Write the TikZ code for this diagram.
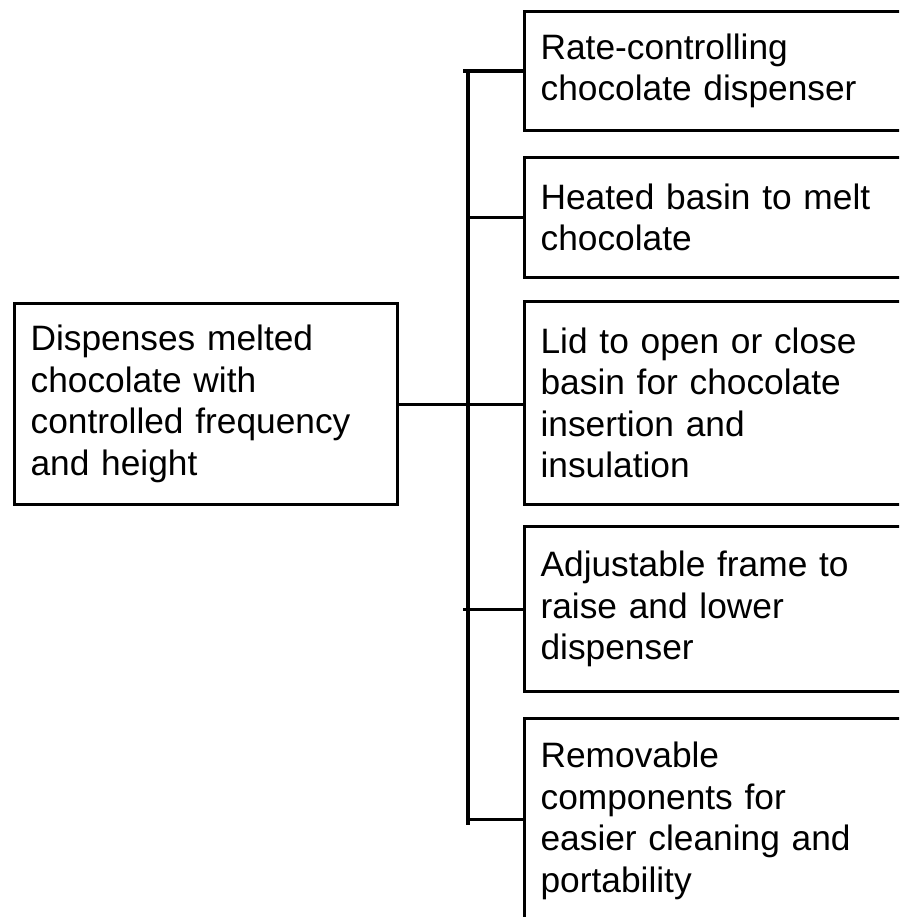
\documentclass[tikz,border=0pt]{standalone}
\usepackage{fontspec}
\setmainfont{Liberation Sans}
\begin{document}
\begin{tikzpicture}[x=1pt,y=-1pt,
  box/.style={draw=black,line width=3.2pt,rectangle,anchor=north west,
    inner xsep=16pt,inner ysep=0pt,text width=351pt,align=left,
    font=\fontsize{35.3}{41.5}\selectfont},
  conn/.style={draw=black,line width=3.2pt}]
\useasboundingbox (0,0) rectangle (899,917);
\clip (0,0) rectangle (899,917);
\node[box,minimum height=201pt,text width=351pt] (L) at (13,302)
  {Dispenses melted\\chocolate with\\controlled frequency\\and height};
\node[box,minimum height=119pt] (B1) at (523,10)
  {Rate-controlling\\chocolate dispenser};
\node[box,minimum height=120pt] (B2) at (523,156)
  {Heated basin to melt\\chocolate};
\node[box,minimum height=203pt] (B3) at (523,300)
  {Lid to open or close\\basin for chocolate\\insertion and\\insulation};
\node[box,minimum height=165pt] (B4) at (523,525)
  {Adjustable frame to\\raise and lower\\dispenser};
\node[box,minimum height=205pt] (B5) at (523,717)
  {Removable\\components for\\easier cleaning and\\portability};
\coordinate (T) at (468,0);
\draw[conn] (B1.west -| T) -- ([yshift=-4pt]B5.west -| T);
\draw[conn] ([xshift=-5pt]B1.west -| T) -- (B1.west);
\draw[conn] (B2.west -| T) -- (B2.west);
\draw[conn] (L.east) -- (L.east -| B3.west);
\draw[conn] ([xshift=-5pt]B4.west -| T) -- (B4.west);
\draw[conn] ([yshift=2pt]B5.west -| T) -- ([yshift=2pt]B5.west);
\end{tikzpicture}
\end{document}
